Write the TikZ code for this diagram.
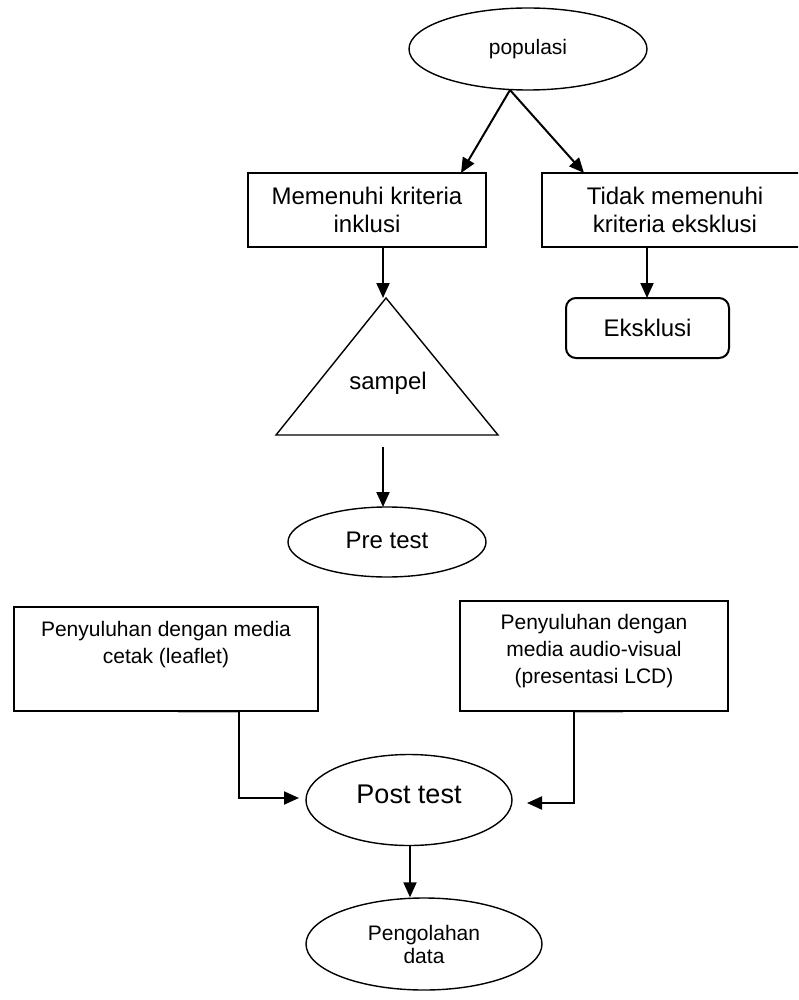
\documentclass[tikz,border=0pt]{standalone}
\usepackage{fontspec}
\setmainfont{Liberation Sans}
\usetikzlibrary{shapes.geometric,arrows.meta,calc}
\begin{document}
\begin{tikzpicture}[x=1pt,y=-1pt,
  box/.style={draw, line width=2pt, inner sep=0pt, align=center},
  oval/.style={draw, ellipse, line width=1.4pt, inner sep=0pt, align=center},
  arr/.style={line width=2pt, -{Triangle[length=15pt,width=13pt]}},
  txt/.style={align=center, inner sep=0pt},
  big/.style={font=\fontsize{24}{28}\selectfont},
  small/.style={font=\fontsize{21}{27}\selectfont}]
\path[use as bounding box, clip] (0,0) rectangle (798,1000);
\fill[white] (0,0) rectangle (798,1000);

% top: population and the two criteria
\node[oval, small, minimum width=238pt, minimum height=82pt] (pop) at (528,49) {\raisebox{2pt}{populasi}};
\coordinate (popout) at (510,90);
\node[box, big, minimum width=238pt, minimum height=74pt] (inkl) at (367,210) {Memenuhi kriteria\\inklusi};
\node[box, big, minimum width=266pt, minimum height=74pt] (eksk) at (675,210) {Tidak memenuhi\\kriteria eksklusi};
\coordinate (inklin) at (461,173);
\coordinate (ekskin) at (584,173);
\draw[arr] (popout) -- (inklin);
\draw[arr] (popout) -- (ekskin);

% exclusion branch
\node[box, big, rounded corners=10pt, minimum width=163pt, minimum height=60pt] (out) at (647.5,328) {Eksklusi};
\coordinate (outin) at (647,298);
\draw[arr] (eksk.south -| outin) -- (outin);

% sample triangle
\coordinate (apex) at (386,298);
\coordinate (baseL) at (276,435);
\coordinate (baseR) at (498,435);
\draw[line width=1.4pt, line join=miter] (apex) -- (baseL) -- (baseR) -- cycle;
\node[txt, big] (sampel) at (388,383) {sampel};
\coordinate (triin) at (383,298);
\draw[arr] (triin |- inkl.south) -- (triin);

% pre test
\node[oval, big, minimum width=198pt, minimum height=70pt] (pre) at (387,542) {\raisebox{3pt}{Pre test}};
\coordinate (triout) at (383,447);
\coordinate (prein) at (383,507);
\draw[arr] (triout) -- (prein);

% the two kinds of counselling
\node[box, minimum width=304pt, minimum height=104pt] (cetak) at (166,659) {};
\node[txt, small] (cetakt) at (166,645) {Penyuluhan dengan media\\cetak (leaflet)};
\node[box, minimum width=268pt, minimum height=110pt] (av) at (594,656) {};
\node[txt, small] (avt) at (594,651) {Penyuluhan dengan\\media audio-visual\\(presentasi LCD)};

% post test and processing
\node[oval, font=\fontsize{27}{30}\selectfont, minimum width=206pt, minimum height=91pt] (post) at (409,800) {\raisebox{11pt}{Post test}};
\node[oval, font=\fontsize{21}{23}\selectfont, minimum width=236pt, minimum height=92pt] (olah) at (424,944) {Pengolahan\\data};

% elbow connectors into the post test
\coordinate (lin) at (299,798);
\coordinate (rin) at (527,803);
\draw[gray!55, line width=1.5pt] (178,712.5) -- (239,712.5);
\draw[gray!55, line width=1.5pt] (574,712.5) -- (623,712.5);
\draw[arr] (239,711) |- (lin);
\draw[arr] (574,711) |- (rin);
\draw[arr] (410,846) -- (olah.north -| 410,0);
\end{tikzpicture}
\end{document}
